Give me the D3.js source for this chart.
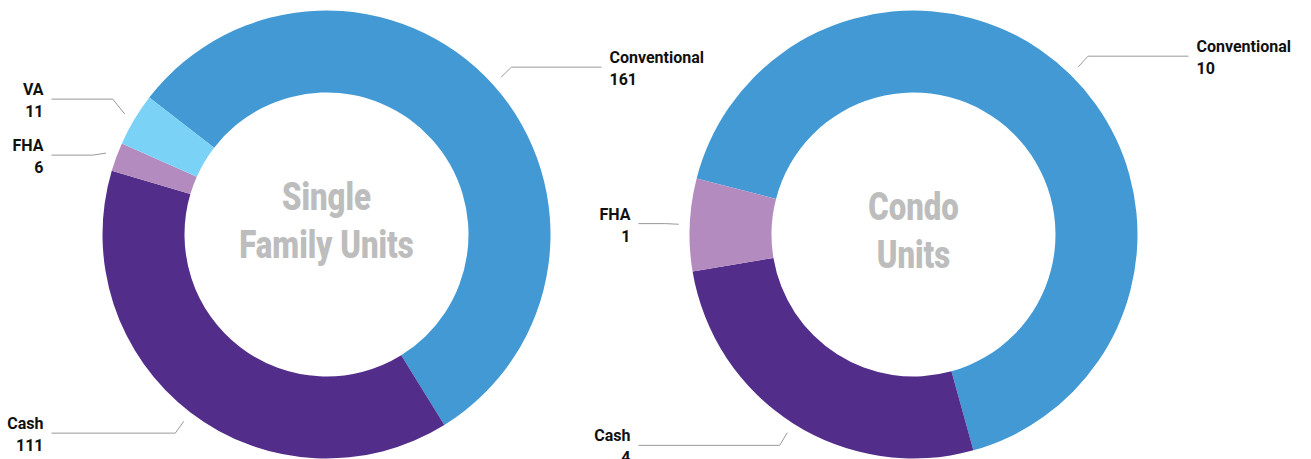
<!DOCTYPE html>
<html>
<head>
<meta charset="utf-8">
<script src="https://cdn.jsdelivr.net/npm/d3@7"></script>
<style>
  html, body { margin: 0; padding: 0; background: #fff; }
  svg { display: block; }
</style>
</head>
<body>
<svg id="chart"></svg>
<script>
// Data
const sfCategories = ["Conventional", "Cash", "FHA", "VA"];
const sfValues = [161, 111, 6, 11];
const condoCategories = ["Conventional", "Cash", "FHA"];
const condoValues = [10, 4, 1];

const colors = {
  Conventional: "#4399d4",
  Cash: "#522d8a",
  FHA: "#b48bbe",
  VA: "#7ad3f7"
};

const width = 1311;
const height = 459;
const outerR = 224;
const innerR = 142;

const svg = d3.select("#chart")
  .attr("width", width)
  .attr("height", height);

const charts = [
  { cx: 326.5, cy: 234.5, start: -52.3, title: ["Single", "Family Units"], titleY: -25, cats: sfCategories, vals: sfValues },
  { cx: 913.5, cy: 234.5, start: -75.5, title: ["Condo", "Units"], titleY: -15, cats: condoCategories, vals: condoValues }
];

const rad = deg => deg * Math.PI / 180;

charts.forEach(c => {
  const g = svg.append("g").attr("transform", `translate(${c.cx},${c.cy})`);
  const data = c.cats.map((k, i) => ({ name: k, value: c.vals[i] }));

  const pie = d3.pie()
    .value(d => d.value)
    .sort(null)
    .startAngle(rad(c.start))
    .endAngle(rad(c.start + 360));

  const arc = d3.arc().innerRadius(innerR).outerRadius(outerR);
  const arcs = pie(data);

  g.selectAll("path.slice")
    .data(arcs)
    .enter().append("path")
    .attr("class", "slice")
    .attr("d", arc)
    .attr("fill", d => colors[d.data.name]);

  // titik label
  const labels = arcs.map(d => {
    const mid = (d.startAngle + d.endAngle) / 2;
    const side = Math.sin(mid) >= 0 ? 1 : -1;
    return {
      d, mid, side,
      y: -(outerR + 26) * Math.cos(mid)
    };
  });

  // jauhkan label yang bertabrakan
  const minGap = 56;
  [-1, 1].forEach(s => {
    const grp = labels.filter(l => l.side === s).sort((a, b) => a.y - b.y);
    for (let iter = 0; iter < 20; iter++) {
      for (let i = 1; i < grp.length; i++) {
        const gap = grp[i].y - grp[i - 1].y;
        if (gap < minGap) {
          const push = (minGap - gap) / 2;
          grp[i].y += push;
          grp[i - 1].y -= push;
        }
      }
    }
  });

  labels.forEach(l => {
    const touchR = outerR + 11;
    const breakR = outerR + 25;
    const tx = touchR * Math.sin(l.mid), ty = -touchR * Math.cos(l.mid);
    const bx = breakR * Math.sin(l.mid);
    const lx = l.side * 275;

    g.append("path")
      .attr("d", `M${lx},${l.y}L${bx},${l.y}L${tx},${ty}`)
      .attr("fill", "none")
      .attr("stroke", "#999")
      .attr("stroke-width", 1);

    const t = g.append("text")
      .attr("x", lx + l.side * 8)
      .attr("text-anchor", l.side > 0 ? "start" : "end")
      .style("font-family", "Roboto, sans-serif")
      .style("font-weight", "bold")
      .style("font-size", "16px")
      .attr("fill", "#111");
    t.append("tspan").attr("x", lx + l.side * 8).attr("y", l.y - 4).text(l.d.data.name);
    t.append("tspan").attr("x", lx + l.side * 8).attr("y", l.y + 18).text(l.d.data.value);
  });

  // judul tengah (dipadatkan horizontal supaya mirip font condensed)
  c.title.forEach((line, i) => {
    g.append("text")
      .attr("transform", `translate(0,${c.titleY + i * 48}) scale(0.82,1)`)
      .attr("text-anchor", "middle")
      .style("font-family", "Roboto, sans-serif")
      .style("font-weight", "900")
      .style("font-size", "38px")
      .attr("fill", "#bdbdbd")
      .text(line);
  });
});
</script>
</body>
</html>
